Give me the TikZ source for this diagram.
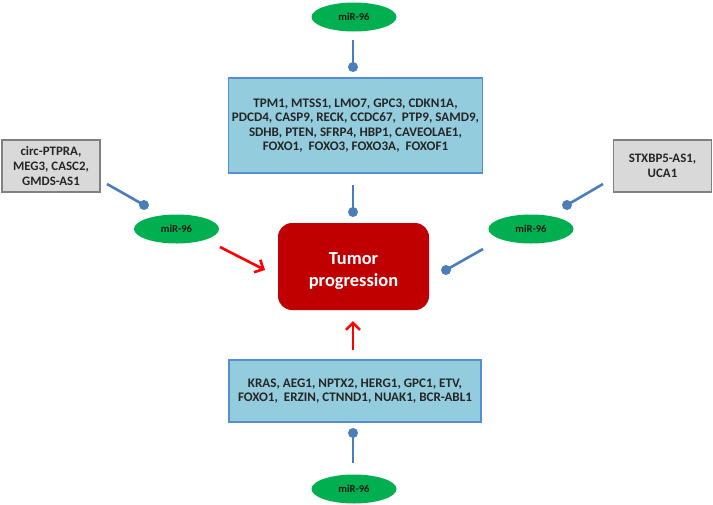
\documentclass[tikz,border=0pt]{standalone}
\usepackage{fontspec}
\setmainfont{Carlito}
\usetikzlibrary{shapes.geometric,arrows.meta}
\definecolor{boxblue}{HTML}{93CDDD}
\definecolor{boxedge}{HTML}{558ED5}
\definecolor{linkblue}{HTML}{4A7EBB}
\definecolor{mirgreen}{HTML}{00B050}
\definecolor{grayfill}{HTML}{D9D9D9}
\definecolor{grayedge}{HTML}{808080}
\definecolor{tumorred}{HTML}{C00000}
\tikzset{
  mir/.style={ellipse, fill=mirgreen, draw=none, minimum width=85pt, minimum height=29pt, inner sep=0pt, font=\bfseries\fontsize{10.6}{12}\selectfont, text=black!90},
  genebox/.style={rectangle, fill=boxblue, draw=boxedge, line width=1.6pt, align=center, font=\bfseries\fontsize{13.1}{14.5}\selectfont, text=black!85},
  lncbox/.style={rectangle, fill=grayfill, draw=grayedge, line width=1.6pt, align=center, font=\bfseries\fontsize{12.9}{15}\selectfont, text=black!85},
  tumor/.style={rectangle, rounded corners=14pt, fill=tumorred, draw=none, align=center, text=white, font=\bfseries\fontsize{18.4}{22}\selectfont},
  inhib/.style={draw=linkblue, line width=2.6pt},
  dotend/.style={fill=linkblue, draw=none},
  promote/.style={draw=red, line width=2.6pt, -{Straight Barb[length=7pt,width=14pt,line width=2.6pt]}},
}
\begin{document}
\begin{tikzpicture}[x=1pt,y=-1pt]
\useasboundingbox (0,0) rectangle (713,504);
% nodes
\node[tumor, minimum width=151pt, minimum height=87pt] (T) at (353.5,266.5) {\rule{0pt}{22pt}Tumor\\progression};
\node[genebox, minimum width=251pt, minimum height=95pt] (G1) at (355.5,125.5) {TPM1, MTSS1, LMO7, GPC3, CDKN1A,\\PDCD4, CASP9, RECK, CCDC67,\ \ PTP9, SAMD9,\\SDHB, PTEN, SFRP4, HBP1, CAVEOLAE1,\\FOXO1,\ \ FOXO3, FOXO3A,\ \ FOXOF1};
\node[genebox, minimum width=252pt, minimum height=62pt] (G2) at (355,391) {KRAS, AEG1, NPTX2, HERG1, GPC1, ETV,\\FOXO1,\ \ ERZIN, CTNND1, NUAK1, BCR-ABL1};
\node[lncbox, minimum width=98pt, minimum height=52pt] (L1) at (51,166) {circ-PTPRA,\\MEG3, CASC2,\\GMDS-AS1};
\node[lncbox, minimum width=98pt, minimum height=52pt] (L2) at (662.5,166) {STXBP5-AS1,\\UCA1};
\node[mir] (M1) at (354,17) {miR-96};
\node[mir] (M2) at (354,489) {miR-96};
\node[mir] (M3) at (176.5,229) {miR-96};
\node[mir] (M4) at (531,229) {miR-96};
% connector endpoints
\coordinate (a1) at (353,40); \coordinate (b1) at (353,67);
\coordinate (a2) at (353,185); \coordinate (b2) at (353,212);
\coordinate (a3) at (353,463); \coordinate (b3) at (353,433);
\coordinate (a4) at (107,184); \coordinate (b4) at (144,205);
\coordinate (a5) at (603,184); \coordinate (b5) at (567,205);
\coordinate (a6) at (483,249); \coordinate (b6) at (446,270);
\coordinate (r1) at (220,247); \coordinate (s1) at (265,270);
\coordinate (r2) at (353,350); \coordinate (s2) at (353,321);
% inhibition connectors
\foreach \i in {1,...,6} {
  \draw[inhib] (a\i) -- (b\i);
  \fill[dotend] (b\i) circle (5pt);
}
% promotion arrows
\draw[promote] (r1) -- (s1);
\draw[promote] (r2) -- (s2);
\end{tikzpicture}
\end{document}
